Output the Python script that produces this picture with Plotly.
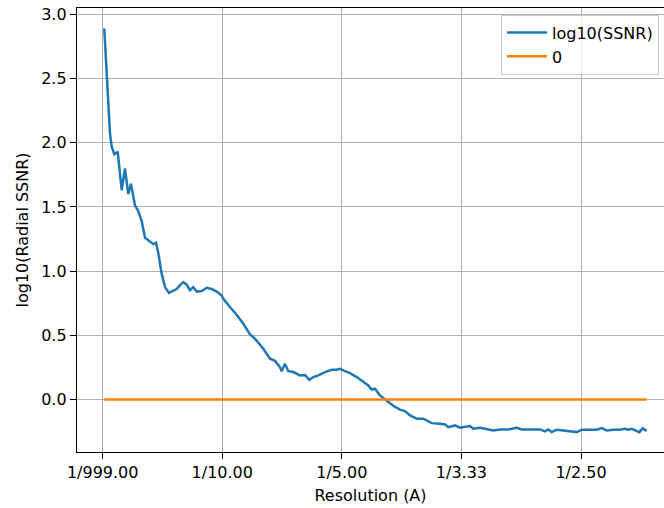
import plotly.graph_objects as go

# spatial frequency (1/A) and log10 of radial SSNR
freq = [0.0013, 0.0036, 0.0047, 0.0061, 0.0075, 0.0097, 0.0125, 0.0159, 0.0186, 0.0214,
        0.0236, 0.0270, 0.0297, 0.0326, 0.0354, 0.0395, 0.0423, 0.0446, 0.0465, 0.0493,
        0.0521, 0.0554, 0.0590, 0.0619, 0.0646, 0.0674, 0.0702, 0.0730, 0.0757, 0.0786,
        0.0828, 0.0870, 0.0911, 0.0953, 0.0995, 0.1008, 0.1064, 0.1120, 0.1176, 0.1232,
        0.1273, 0.1343, 0.1399, 0.1441, 0.1483, 0.1497, 0.1524, 0.1552, 0.1594, 0.1650,
        0.1692, 0.1728, 0.1761, 0.1803, 0.1859, 0.1915, 0.1957, 0.1984, 0.2026, 0.2068,
        0.2124, 0.2179, 0.2221, 0.2249, 0.2277, 0.2319, 0.2375, 0.2430, 0.2486, 0.2528,
        0.2570, 0.2626, 0.2681, 0.2710, 0.2751, 0.2821, 0.2863, 0.2890, 0.2946, 0.2988,
        0.3044, 0.3072, 0.3099, 0.3155, 0.3197, 0.3266, 0.3323, 0.3392, 0.3462, 0.3504,
        0.3573, 0.3657, 0.3699, 0.3726, 0.3755, 0.3797, 0.3852, 0.3908, 0.3964, 0.4006,
        0.4075, 0.4131, 0.4173, 0.4215, 0.4270, 0.4326, 0.4368, 0.4395, 0.4424, 0.4452,
        0.4488, 0.4516, 0.4549]
ssnr = [2.89, 2.51, 2.28, 2.07, 1.97, 1.91, 1.93, 1.63, 1.80, 1.60,
        1.68, 1.51, 1.47, 1.39, 1.26, 1.23, 1.21, 1.22, 1.14, 0.98,
        0.875, 0.83, 0.85, 0.86, 0.89, 0.914, 0.894, 0.85, 0.875, 0.84,
        0.844, 0.87, 0.86, 0.84, 0.81, 0.785, 0.72, 0.66, 0.59, 0.507,
        0.473, 0.395, 0.317, 0.30, 0.25, 0.22, 0.278, 0.22, 0.213, 0.187,
        0.19, 0.153, 0.174, 0.187, 0.213, 0.231, 0.231, 0.239, 0.22, 0.205,
        0.174, 0.135, 0.109, 0.076, 0.083, 0.031, -0.008, -0.05, -0.08, -0.091,
        -0.125, -0.15, -0.15, -0.164, -0.185, -0.19, -0.195, -0.216, -0.203, -0.221,
        -0.216, -0.208, -0.229, -0.221, -0.229, -0.242, -0.234, -0.234, -0.221, -0.234,
        -0.234, -0.234, -0.249, -0.234, -0.255, -0.236, -0.242, -0.247, -0.255, -0.236,
        -0.236, -0.236, -0.224, -0.242, -0.236, -0.236, -0.229, -0.236, -0.229, -0.242,
        -0.255, -0.224, -0.247]

zero_x = [0.0013, 0.4549]
zero_y = [0, 0]

tick_vals = [0.0, 0.1, 0.2, 0.3, 0.4]
tick_text = ["1/999.00", "1/10.00", "1/5.00", "1/3.33", "1/2.50"]

font = dict(family="DejaVu Sans", size=16, color="black")

fig = go.Figure()
fig.add_scatter(x=freq, y=ssnr, mode="lines", name="log10(SSNR)",
                line=dict(color="#1f77b4", width=2.5))
fig.add_scatter(x=zero_x, y=zero_y, mode="lines", name="0",
                line=dict(color="#ff7f0e", width=2.5))

fig.update_layout(
    width=664, height=508,
    margin=dict(l=77, r=0, t=8, b=56, autoexpand=False),
    paper_bgcolor="white", plot_bgcolor="white",
    font=font,
    legend=dict(x=0.7223, y=0.985, xanchor="left", yanchor="top",
                bgcolor="rgba(255,255,255,0.8)", bordercolor="#cccccc",
                borderwidth=1, itemwidth=40, font=font),
)
fig.update_xaxes(range=[-0.0215, 0.4694], tickvals=tick_vals, ticktext=tick_text,
                 showgrid=True, gridcolor="#b0b0b0", gridwidth=1.3, zeroline=False,
                 showline=True, linecolor="black", linewidth=1.3, mirror=True,
                 ticks="outside", ticklen=6, tickwidth=1.3, tickcolor="black",
                 title=dict(text="Resolution (A)", standoff=8, font=font),
                 automargin=False)
fig.update_yaxes(range=[-0.41, 3.05], tickvals=[0, 0.5, 1, 1.5, 2, 2.5, 3],
                 ticktext=["0.0", "0.5", "1.0", "1.5", "2.0", "2.5", "3.0"],
                 showgrid=True, gridcolor="#b0b0b0", gridwidth=1.3, zeroline=False,
                 showline=True, linecolor="black", linewidth=1.3, mirror=False,
                 ticks="outside", ticklen=6, tickwidth=1.3, tickcolor="black",
                 title=dict(text="log10(Radial SSNR)", standoff=8, font=font),
                 automargin=False)

# drop the browser's default body margin so the figure sits at the page corner
fig.write_html("out.html", config={"displayModeBar": False},
               post_script="document.body.style.margin='0';")
